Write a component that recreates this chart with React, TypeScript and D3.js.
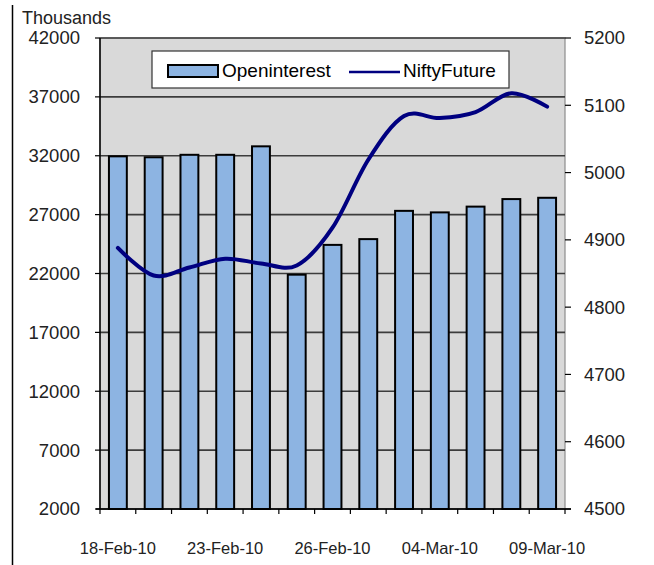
import React from "react";
import * as d3 from "d3";

const dates = [
  "18-Feb-10", "19-Feb-10", "22-Feb-10", "23-Feb-10", "24-Feb-10", "25-Feb-10", "26-Feb-10",
  "02-Mar-10", "03-Mar-10", "04-Mar-10", "05-Mar-10", "08-Mar-10", "09-Mar-10",
];
const openInterest = [31950, 31870, 32080, 32080, 32800, 21900, 24430, 24920, 27320, 27190, 27680, 28320, 28430];
const niftyFuture = [4888, 4847, 4859, 4872, 4865, 4862, 4918, 5019, 5084, 5081, 5090, 5118, 5098];
const leftTicks = [2000, 7000, 12000, 17000, 22000, 27000, 32000, 37000, 42000];
const rightTicks = [4500, 4600, 4700, 4800, 4900, 5000, 5100, 5200];
const shownDateIdx = [0, 3, 6, 9, 12];

const W = 654, H = 565;
const L = 100, R = 565, T = 38, B = 509;
const FONT = "'Liberation Sans', Arial, sans-serif";

export default function App() {
  const x = d3.scaleBand<string>().domain(dates).range([L, R]).paddingInner(0).paddingOuter(0);
  const yL = d3.scaleLinear().domain([2000, 42000]).range([B, T]);
  const yR = d3.scaleLinear().domain([4500, 5200]).range([B, T]);
  const bw = x.bandwidth() * 0.5;
  const line = d3
    .line<number>()
    .x((_, i) => (x(dates[i]) as number) + x.bandwidth() / 2)
    .y((d) => yR(d))
    .curve(d3.curveCardinal.tension(0));

  return (
    <svg width={W} height={H} style={{ position: "absolute", left: 0, top: 0, background: "#fff" }} fontFamily={FONT}>
      <line x1={12.5} x2={12.5} y1={5} y2={H} stroke="#000" strokeWidth={1.5} />
      <rect x={L} y={T} width={R - L} height={B - T} fill="#d9d9d9" stroke="#8c8c8c" strokeWidth={1.2} />
      {leftTicks.map((t) => (
        <line key={"g" + t} x1={L} x2={R} y1={yL(t)} y2={yL(t)} stroke="#3c3c3c" strokeWidth={1.6} />
      ))}
      {openInterest.map((v, i) => {
        const cx = (x(dates[i]) as number) + x.bandwidth() / 2;
        return (
          <rect key={"b" + i} x={cx - bw / 2} y={yL(v)} width={bw} height={B - yL(v)} fill="#8db4e2" stroke="#000" strokeWidth={2} />
        );
      })}
      <path d={line(niftyFuture) || ""} fill="none" stroke="#000080" strokeWidth={4} strokeLinecap="round" />
      {/* left axis */}
      <line x1={L} x2={L} y1={T} y2={B} stroke="#000" strokeWidth={1.5} />
      {leftTicks.map((t) => (
        <g key={"lt" + t}>
          <line x1={L - 5} x2={L} y1={yL(t)} y2={yL(t)} stroke="#000" strokeWidth={1.2} />
          <text x={80} y={yL(t)} dy="0.35em" textAnchor="end" fontSize={18.5} fill="#222">{t}</text>
        </g>
      ))}
      {/* right axis */}
      {rightTicks.map((t) => (
        <g key={"rt" + t}>
          <line x1={R} x2={R + 6} y1={yR(t)} y2={yR(t)} stroke="#000" strokeWidth={1.2} />
          <text x={584} y={yR(t)} dy="0.35em" textAnchor="start" fontSize={18.5} fill="#222">{t}</text>
        </g>
      ))}
      {/* bottom axis */}
      <line x1={L - 4} x2={R + 6} y1={B} y2={B} stroke="#000" strokeWidth={1.5} />
      {d3.range(dates.length + 1).map((i) => {
        const xx = L + i * x.step();
        return <line key={"xt" + i} x1={xx} x2={xx} y1={B} y2={B + 5} stroke="#000" strokeWidth={1.2} />;
      })}
      {shownDateIdx.map((i) => (
        <text key={"xl" + i} x={(x(dates[i]) as number) + x.bandwidth() / 2} y={554} textAnchor="middle" fontSize={16.5} fill="#222">
          {dates[i]}
        </text>
      ))}
      <text x={22} y={24} fontSize={18} fill="#222">Thousands</text>
      {/* legend */}
      <rect x={152} y={51} width={357} height={37} fill="#fff" stroke="#333" strokeWidth={1.2} />
      <rect x={168} y={65} width={50} height={12} fill="#8db4e2" stroke="#000" strokeWidth={2} />
      <text x={222} y={77} fontSize={19} fill="#000">Openinterest</text>
      <line x1={349} x2={400} y1={72} y2={72} stroke="#000080" strokeWidth={2.5} />
      <text x={403} y={77} fontSize={19} fill="#000">NiftyFuture</text>
    </svg>
  );
}
